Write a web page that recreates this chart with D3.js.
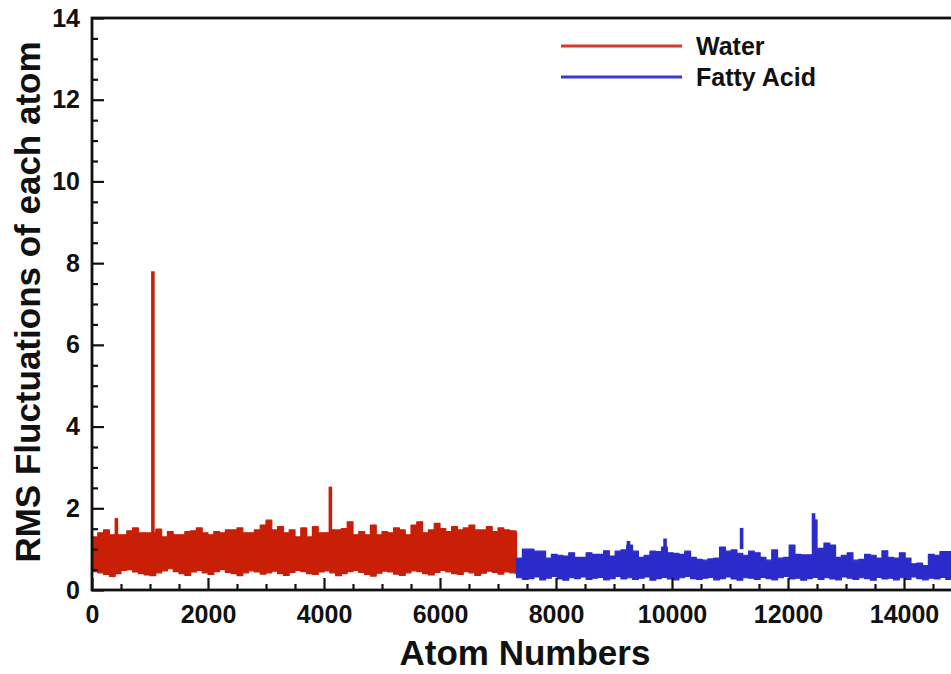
<!DOCTYPE html>
<html>
<head>
<meta charset="utf-8">
<script src="https://cdn.jsdelivr.net/npm/d3@7"></script>
<style>
  html, body { margin: 0; padding: 0; background: #fff; }
  svg { display: block; font-family: "Liberation Sans", Arial, sans-serif; font-weight: bold; }
</style>
</head>
<body>
<svg width="951" height="674"></svg>
<script>
// bins of 100 atoms, upper / lower edge of the fluctuation band
const binSize = 100;
const waterStart = 0;
const waterEnd = 7320;
const waterUpper = [
  1.30, 1.40, 1.47, 1.35, 1.35, 1.35, 1.45, 1.52, 1.40, 1.40,
  1.40, 1.49, 1.30, 1.43, 1.35, 1.35, 1.43, 1.45, 1.52, 1.40,
  1.35, 1.43, 1.40, 1.47, 1.47, 1.52, 1.40, 1.40, 1.47, 1.59,
  1.71, 1.47, 1.55, 1.40, 1.47, 1.30, 1.52, 1.30, 1.55, 1.40,
  1.40, 1.47, 1.47, 1.50, 1.67, 1.35, 1.43, 1.35, 1.59, 1.35,
  1.43, 1.40, 1.52, 1.47, 1.35, 1.59, 1.67, 1.40, 1.47, 1.63,
  1.50, 1.43, 1.55, 1.47, 1.52, 1.59, 1.47, 1.47, 1.55, 1.43,
  1.52, 1.47, 1.45, 1.43
];
const waterLower = [
  0.45, 0.42, 0.38, 0.33, 0.40, 0.48, 0.50, 0.44, 0.40, 0.37,
  0.35, 0.42, 0.47, 0.52, 0.45, 0.40, 0.36, 0.44, 0.48, 0.42,
  0.38, 0.45, 0.50, 0.43, 0.40, 0.35, 0.42, 0.47, 0.44, 0.39,
  0.42, 0.46, 0.40, 0.36, 0.43, 0.48, 0.45, 0.40, 0.38, 0.44,
  0.47, 0.42, 0.35, 0.40, 0.45, 0.48, 0.43, 0.38, 0.34, 0.41,
  0.46, 0.44, 0.39, 0.36, 0.42, 0.47, 0.45, 0.40, 0.37, 0.43,
  0.48, 0.44, 0.40, 0.38, 0.45, 0.42, 0.36, 0.41, 0.46, 0.43,
  0.39, 0.44, 0.42, 0.40
];
const fattyStart = 7320;
const fattyEnd = 15020;
const fattyUpper = [
  0.78, 1.00, 1.00, 0.95, 0.95, 0.78, 0.87, 0.85, 0.83, 0.91,
  0.80, 0.80, 0.91, 0.87, 0.87, 0.96, 0.83, 0.95, 0.98, 1.10,
  0.95, 0.80, 0.85, 0.95, 0.94, 1.05, 0.91, 0.90, 0.87, 0.95,
  0.80, 0.75, 0.73, 0.76, 0.78, 1.05, 0.95, 0.98, 0.90, 0.85,
  0.95, 0.91, 0.80, 0.73, 0.98, 0.78, 0.80, 1.10, 0.87, 0.86,
  0.86, 1.00, 1.02, 1.15, 1.10, 0.80, 0.85, 0.91, 0.73, 0.75,
  0.87, 0.85, 0.78, 0.96, 0.80, 0.78, 0.91, 0.78, 0.64, 0.66,
  0.60, 0.87, 0.85, 0.94, 0.94, 0.90, 0.85
];
const fattyLower = [
  0.30, 0.26, 0.28, 0.32, 0.25, 0.29, 0.33, 0.27, 0.24, 0.30,
  0.28, 0.32, 0.26, 0.29, 0.31, 0.25, 0.28, 0.33, 0.27, 0.30,
  0.26, 0.29, 0.32, 0.24, 0.28, 0.31, 0.27, 0.25, 0.30, 0.33,
  0.28, 0.26, 0.29, 0.31, 0.25, 0.28, 0.32, 0.27, 0.24, 0.30,
  0.29, 0.26, 0.31, 0.28, 0.25, 0.30, 0.33, 0.27, 0.29, 0.24,
  0.28, 0.31, 0.26, 0.30, 0.27, 0.25, 0.32, 0.29, 0.26, 0.30,
  0.28, 0.24, 0.31, 0.27, 0.29, 0.25, 0.30, 0.26, 0.32, 0.28,
  0.25, 0.29, 0.27, 0.31, 0.26, 0.28, 0.30
];
// isolated peaks: [atom, rms]
const waterSpikes = [[420, 1.76], [1050, 7.80], [4110, 2.53]];
const fattySpikes = [[9250, 1.20], [9880, 1.26], [11200, 1.52], [12440, 1.88], [12480, 1.73]];

const xTickValues = [0, 2000, 4000, 6000, 8000, 10000, 12000, 14000];
const yTickValues = [0, 2, 4, 6, 8, 10, 12, 14];

const series = [
  { name: 'Water', start: waterStart, end: waterEnd, upper: waterUpper, lower: waterLower, spikes: waterSpikes, color: '#c91f06', legendColor: '#d8392b' },
  { name: 'Fatty Acid', start: fattyStart, end: fattyEnd, upper: fattyUpper, lower: fattyLower, spikes: fattySpikes, color: '#2b2bc9', legendColor: '#3a3ad6' }
];

const svg = d3.select('svg');

const x = d3.scaleLinear().domain([0, 16000]).range([92, 1020]);
const y = d3.scaleLinear().domain([0, 14]).range([590, 18]);

/* ==================================
Bands
================================== */
const area = d3.area()
  .curve(d3.curveStepAfter)
  .x((d) => x(d.atom))
  .y0((d) => y(d.lo))
  .y1((d) => y(d.hi));

series.forEach((s) => {
  const pts = s.upper.map((v, i) => ({ atom: s.start + i * binSize, hi: v, lo: s.lower[i] }));
  const last = pts[pts.length - 1];
  pts.push({ atom: s.end, hi: last.hi, lo: last.lo });

  svg.append('path')
    .datum(pts)
    .attr('d', area)
    .attr('fill', s.color)
    .attr('stroke', s.color)
    .attr('stroke-width', 1.2)
    .attr('stroke-linejoin', 'round');

  svg.selectAll(null)
    .data(s.spikes)
    .enter()
    .append('line')
    .attr('x1', (d) => x(d[0]))
    .attr('x2', (d) => x(d[0]))
    .attr('y1', y(1))
    .attr('y2', (d) => y(d[1]))
    .attr('stroke', s.color)
    .attr('stroke-width', 3.6);
});

/* ==================================
Axes (ticks inward)
================================== */
const minorX = d3.range(0, 15001, 500).filter((v) => v % 2000 !== 0);
const minorY = d3.range(0, 14.01, 0.5).filter((v) => v % 2 !== 0);

function styleAxis(g) {
  g.selectAll('.domain').remove();
  g.selectAll('.tick line').attr('stroke', '#111').attr('stroke-width', 2.2);
  g.selectAll('.tick text')
    .attr('fill', '#111')
    .style('font-size', '25px')
    .style('font-weight', 'bold')
    .style('font-family', '"Liberation Sans", Arial, sans-serif');
}

svg.append('g')
  .attr('transform', `translate(0, ${y(0)})`)
  .call(d3.axisBottom(x).tickValues(minorX).tickSize(-6).tickFormat(''))
  .call(styleAxis);
svg.append('g')
  .attr('transform', `translate(0, ${y(0)})`)
  .call(d3.axisBottom(x).tickValues(xTickValues).tickSize(-12).tickPadding(15).tickFormat(d3.format('d')))
  .call(styleAxis);

svg.append('g')
  .attr('transform', `translate(${x(0)}, 0)`)
  .call(d3.axisLeft(y).tickValues(minorY).tickSize(-6).tickFormat(''))
  .call(styleAxis);
svg.append('g')
  .attr('transform', `translate(${x(0)}, 0)`)
  .call(d3.axisLeft(y).tickValues(yTickValues).tickSize(-12).tickPadding(12).tickFormat(d3.format('d')))
  .call(styleAxis);

// frame
svg.append('rect')
  .attr('x', x(0))
  .attr('y', y(14))
  .attr('width', x(16000) - x(0))
  .attr('height', y(0) - y(14))
  .attr('fill', 'none')
  .attr('stroke', '#111')
  .attr('stroke-width', 2.8);

/* ==================================
Titles
================================== */
svg.append('text')
  .attr('x', 525)
  .attr('y', 665)
  .attr('text-anchor', 'middle')
  .style('font-size', '35px')
  .attr('fill', '#111')
  .text('Atom Numbers');

svg.append('text')
  .attr('transform', 'translate(40, 302) rotate(-90)')
  .attr('text-anchor', 'middle')
  .style('font-size', '35px')
  .attr('fill', '#111')
  .text('RMS Fluctuations of each atom');

/* ==================================
Legend
================================== */
const legend = svg.append('g');
series.forEach((s, i) => {
  const ly = 46 + i * 31;
  legend.append('line')
    .attr('x1', 561).attr('x2', 682)
    .attr('y1', ly).attr('y2', ly)
    .attr('stroke', s.legendColor)
    .attr('stroke-width', 3);
  legend.append('text')
    .attr('x', 696)
    .attr('y', ly + 9)
    .style('font-size', '25px')
    .attr('fill', '#111')
    .text(s.name);
});
</script>
</body>
</html>
